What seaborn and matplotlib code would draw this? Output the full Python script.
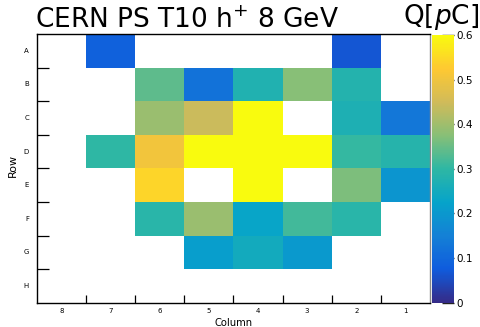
import numpy as np
import pandas as pd
import matplotlib
matplotlib.use("Agg")
import matplotlib.pyplot as plt
from matplotlib.colors import LinearSegmentedColormap
import seaborn as sns

nan = np.nan

# Charge per pad, rows A..H (top to bottom), columns 8..1 (left to right)
column_labels = ["8", "7", "6", "5", "4", "3", "2", "1"]
row_labels = ["A", "B", "C", "D", "E", "F", "G", "H"]

row_A = [nan, 0.085, nan, nan, nan, nan, 0.067, nan]
row_B = [nan, nan, 0.34, 0.122, 0.277, 0.375, 0.28, nan]
row_C = [nan, nan, 0.394, 0.443, 0.6, nan, 0.27, 0.13]
row_D = [nan, 0.30, 0.505, 0.6, 0.6, 0.6, 0.305, 0.285]
row_E = [nan, nan, 0.543, nan, 0.6, nan, 0.365, 0.195]
row_F = [nan, nan, 0.29, 0.394, 0.23, 0.317, 0.29, nan]
row_G = [nan, nan, nan, 0.212, 0.25, 0.204, nan, nan]
row_H = [nan, nan, nan, nan, nan, nan, nan, nan]

charge = pd.DataFrame(
    [row_A, row_B, row_C, row_D, row_E, row_F, row_G, row_H],
    index=row_labels, columns=column_labels,
)

# ROOT "kBird" palette
stops = [0.0, 0.125, 0.25, 0.375, 0.5, 0.625, 0.75, 0.875, 1.0]
red = [0.2082, 0.0592, 0.0780, 0.0232, 0.1802, 0.5301, 0.8186, 0.9956, 0.9764]
green = [0.1664, 0.3599, 0.5041, 0.6419, 0.7178, 0.7492, 0.7328, 0.7862, 0.9832]
blue = [0.5293, 0.8684, 0.8385, 0.7914, 0.6425, 0.4662, 0.3499, 0.1968, 0.0539]
bird = LinearSegmentedColormap.from_list(
    "bird", list(zip(stops, zip(red, green, blue))), N=255
)

sns.set_style("white")
plt.rcParams["font.family"] = ["DejaVu Sans"]
plt.rcParams["text.color"] = "black"
plt.rcParams["axes.labelcolor"] = "black"
plt.rcParams["xtick.color"] = "black"
plt.rcParams["ytick.color"] = "black"

W, H = 481, 327
fig = plt.figure(figsize=(W / 100, H / 100), dpi=100)
ax = fig.add_axes([36.7 / W, 1 - 302.7 / H, (430 - 36.7) / W, (302.7 - 34) / H])
cax = fig.add_axes([432 / W, 1 - 302.7 / H, 22 / W, (302.7 - 35) / H])

sns.heatmap(charge, ax=ax, cmap=bird, vmin=0, vmax=0.6, cbar_ax=cax,
            cbar_kws={"ticks": [0, 0.1, 0.2, 0.3, 0.4, 0.5, 0.6]})

# Labels at bin centres, ticks at bin edges
ax.set_yticklabels(row_labels, rotation=0)
ax.set_xticklabels(column_labels, rotation=0)
ax.tick_params(axis="both", which="major", length=0, labelsize=5)
ax.tick_params(axis="x", which="major", pad=3.5)
ax.tick_params(axis="y", which="major", pad=5.5)
ax.set_xticks(np.arange(1, 8), minor=True)
ax.set_yticks(np.arange(1, 8), minor=True)
ax.tick_params(axis="y", which="minor", direction="in", length=8.5, width=0.9,
               left=True, color="black")
ax.tick_params(axis="x", which="minor", direction="in", length=6, width=0.9,
               bottom=True, color="black")

for side in ["left", "bottom", "top", "right"]:
    ax.spines[side].set_visible(True)
    ax.spines[side].set_color("black")
    ax.spines[side].set_linewidth(1.0)
ax.spines["right"].set_color("#888888")

ax.set_xlabel("Column", fontsize=7.2)
ax.set_ylabel("Row", fontsize=8)
ax.xaxis.set_label_coords(0.5, -(323 - 302.7) / 268.7)
ax.xaxis.label.set_va("center")
ax.yaxis.set_label_coords(-(36.7 - 13) / 393.3, (302.7 - 165) / 268.7)
ax.yaxis.label.set_va("center")

cax.tick_params(direction="in", length=8.5, width=1.0, labelsize=7.5, pad=2,
                right=True, color="#222222")
cax.set_yticklabels(["0", "0.1", "0.2", "0.3", "0.4", "0.5", "0.6"])
for s in cax.spines.values():
    s.set_visible(False)

fig.text(35 / W, 1 - 28 / H, r"CERN PS T10 h$^{+}$ 8 GeV", fontsize=19,
         ha="left", va="baseline")
fig.text(479 / W, 1 - 24 / H, r"Q[$\mathit{p}$C]", fontsize=19,
         ha="right", va="baseline")

fig.savefig("out.png", dpi=100)
